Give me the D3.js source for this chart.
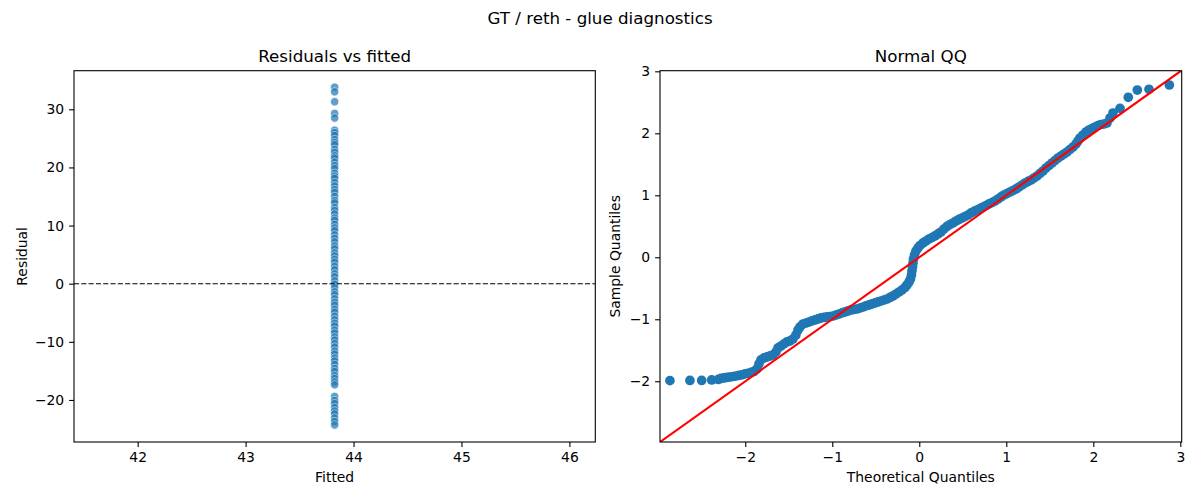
<!DOCTYPE html>
<html>
<head>
<meta charset="utf-8">
<script src="https://cdn.jsdelivr.net/npm/d3@7"></script>
<style>
  html, body { margin: 0; padding: 0; background: #fff; }
  svg { display: block; font-family: "DejaVu Sans", sans-serif; }
</style>
</head>
<body>
<svg id="chart" width="1200" height="500"></svg>
<script>
// ---------------- data ----------------
const figTitle = "GT / reth - glue diagnostics";
const leftTitle = "Residuals vs fitted";
const rightTitle = "Normal QQ";
const leftXLabel = "Fitted";
const leftYLabel = "Residual";
const rightXLabel = "Theoretical Quantiles";
const rightYLabel = "Sample Quantiles";

const fittedValue = 43.825;
const residuals = [33.8, 33.0, 31.3, 29.3, 28.5, 26.4, 26.0, 25.5, 24.8, 24.3, 23.9, 23.1, 22.6, 22.0, 21.6,
  20.9, 20.3, 19.8, 19.0, 18.5, 18.1, 17.4, 16.8, 16.2, 15.7, 15.0, 14.3, 13.9, 13.1, 12.6, 12.0, 11.3,
  10.9, 10.2, 9.6, 9.1, 8.4, 7.8, 7.2, 6.5, 6.0, 5.3, 4.8, 4.2, 3.7, 3.0, 2.4, 1.7, 1.2, 0.5, -0.1, -0.7,
  -1.4, -1.9, -2.6, -3.2, -3.7, -4.4, -4.9, -5.6, -6.2, -6.8, -7.3, -8.0, -8.5, -9.2, -9.7, -10.3, -10.9,
  -11.6, -12.1, -12.8, -13.3, -13.9, -14.6, -15.1, -15.8, -16.3, -16.9, -17.4, -19.4, -20.1, -20.6,
  -21.3, -21.9, -22.4, -23.1, -23.7, -24.3];

const theoretical = [-2.866, -2.636, -2.501, -2.386, -2.310, -2.279, -2.245, -2.210, -2.176, -2.141, -2.107,
  -2.072, -2.038, -2.003, -1.969, -1.934, -1.900, -1.866, -1.843, -1.820, -1.785, -1.751, -1.716, -1.682,
  -1.647, -1.624, -1.590, -1.555, -1.521, -1.487, -1.452, -1.418, -1.394, -1.371, -1.337, -1.302, -1.268,
  -1.233, -1.199, -1.164, -1.130, -1.095, -1.061, -1.026, -0.992, -0.957, -0.923, -0.888, -0.854, -0.819,
  -0.785, -0.751, -0.716, -0.682, -0.647, -0.613, -0.578, -0.544, -0.509, -0.475, -0.440, -0.406, -0.371,
  -0.337, -0.302, -0.268, -0.233, -0.199, -0.164, -0.141, -0.118, -0.101, -0.090, -0.084, -0.078, -0.072,
  -0.067, -0.055, -0.038, -0.015, 0.008, 0.043, 0.077, 0.111, 0.146, 0.180, 0.215, 0.249, 0.284, 0.318,
  0.353, 0.387, 0.422, 0.456, 0.491, 0.525, 0.560, 0.594, 0.629, 0.663, 0.698, 0.732, 0.767, 0.801, 0.836,
  0.870, 0.905, 0.939, 0.974, 1.008, 1.043, 1.077, 1.112, 1.146, 1.181, 1.215, 1.250, 1.284, 1.318, 1.353,
  1.387, 1.422, 1.456, 1.491, 1.525, 1.560, 1.594, 1.629, 1.663, 1.698, 1.732, 1.767, 1.801, 1.824, 1.847,
  1.881, 1.916, 1.950, 1.985, 2.019, 2.054, 2.088, 2.123, 2.157, 2.192, 2.226, 2.307, 2.402, 2.506, 2.640,
  2.874];
const sample = [-1.990, -1.987, -1.987, -1.979, -1.971, -1.955, -1.947, -1.939, -1.931, -1.923, -1.915,
  -1.906, -1.898, -1.882, -1.874, -1.858, -1.842, -1.802, -1.721, -1.656, -1.624, -1.608, -1.592, -1.576,
  -1.527, -1.463, -1.431, -1.398, -1.366, -1.350, -1.318, -1.253, -1.173, -1.124, -1.076, -1.060, -1.044,
  -1.027, -1.011, -0.995, -0.979, -0.971, -0.963, -0.955, -0.947, -0.931, -0.915, -0.898, -0.882, -0.866,
  -0.850, -0.842, -0.834, -0.818, -0.802, -0.785, -0.769, -0.753, -0.737, -0.721, -0.705, -0.689, -0.673,
  -0.648, -0.624, -0.592, -0.560, -0.527, -0.487, -0.447, -0.398, -0.350, -0.285, -0.221, -0.156, -0.092,
  -0.027, 0.037, 0.102, 0.150, 0.190, 0.231, 0.263, 0.295, 0.319, 0.344, 0.376, 0.408, 0.456, 0.497,
  0.529, 0.553, 0.585, 0.610, 0.634, 0.658, 0.682, 0.715, 0.739, 0.763, 0.787, 0.811, 0.835, 0.860, 0.884,
  0.908, 0.940, 0.973, 1.005, 1.029, 1.053, 1.077, 1.102, 1.134, 1.166, 1.198, 1.223, 1.247, 1.279, 1.311,
  1.352, 1.392, 1.440, 1.481, 1.521, 1.561, 1.602, 1.634, 1.666, 1.698, 1.739, 1.779, 1.827, 1.876, 1.924,
  1.973, 2.021, 2.053, 2.077, 2.102, 2.126, 2.142, 2.150, 2.166, 2.247, 2.327, 2.403, 2.581, 2.698, 2.710,
  2.779];

const leftXTicks = [42, 43, 44, 45, 46];
const leftYTicks = [-20, -10, 0, 10, 20, 30];
const rightXTicks = [-2, -1, 0, 1, 2, 3];
const rightYTicks = [-2, -1, 0, 1, 2, 3];
const leftXDomain = [41.41, 46.24];
const leftYDomain = [-27.23, 36.64];
const rightXDomain = [-2.98, 3.016];
const rightYDomain = [-2.98, 3.01];

// ---------------- layout ----------------
const svg = d3.select("#chart");
const TOP = 70.7, BOTTOM = 442;
const L = { x0: 74, x1: 595.3 };
const R = { x0: 660, x1: 1181.7 };
const TICK = 4.9, PAD = 4.9, FS = 13.9, TFS = 16.7;
const C0 = "#1f77b4";

const xL = d3.scaleLinear().domain(leftXDomain).range([L.x0, L.x1]);
const yL = d3.scaleLinear().domain(leftYDomain).range([BOTTOM, TOP]);
const xR = d3.scaleLinear().domain(rightXDomain).range([R.x0, R.x1]);
const yR = d3.scaleLinear().domain(rightYDomain).range([BOTTOM, TOP]);

const fmt = d3.format("d");

function styleAxis(g) {
  g.selectAll("path.domain").remove();
  g.selectAll(".tick line").attr("stroke", "#000").attr("stroke-width", 1.1);
  g.selectAll(".tick text").attr("fill", "#000").attr("font-size", FS)
    .attr("font-family", "DejaVu Sans");
}

function drawAxes(x, y, xt, yt, box, clipId) {
  svg.append("defs").append("clipPath").attr("id", clipId)
    .append("rect").attr("x", box.x0).attr("y", TOP)
    .attr("width", box.x1 - box.x0).attr("height", BOTTOM - TOP);
  svg.append("g").attr("transform", `translate(0,${BOTTOM})`)
    .call(d3.axisBottom(x).tickValues(xt).tickFormat(fmt).tickSize(TICK).tickPadding(PAD))
    .call(styleAxis);
  svg.append("g").attr("transform", `translate(${box.x0},0)`)
    .call(d3.axisLeft(y).tickValues(yt).tickFormat(fmt).tickSize(TICK).tickPadding(PAD))
    .call(styleAxis);
}

function drawFrame(box) {
  svg.append("rect").attr("x", box.x0).attr("y", TOP)
    .attr("width", box.x1 - box.x0).attr("height", BOTTOM - TOP)
    .attr("fill", "none").attr("stroke", "#000").attr("stroke-width", 1.1);
}

// ---------------- left panel ----------------
drawAxes(xL, yL, leftXTicks, leftYTicks, L, "clipL");
const gL = svg.append("g").attr("clip-path", "url(#clipL)");
gL.selectAll("circle").data(residuals).join("circle")
  .attr("cx", () => xL(fittedValue))
  .attr("cy", d => yL(d))
  .attr("r", 4.17)
  .attr("fill", C0)
  .attr("stroke", "#fff")
  .attr("stroke-width", 0.67)
  .attr("opacity", 0.7);
gL.append("line")
  .attr("x1", L.x0).attr("x2", L.x1)
  .attr("y1", yL(0)).attr("y2", yL(0))
  .attr("stroke", "#000").attr("stroke-width", 1.1)
  .attr("stroke-dasharray", "5.1,2.2");
drawFrame(L);

// ---------------- right panel ----------------
drawAxes(xR, yR, rightXTicks, rightYTicks, R, "clipR");
const gR = svg.append("g").attr("clip-path", "url(#clipR)");
const qq = theoretical.map((t, i) => ({ t, s: sample[i] }));
gR.selectAll("circle").data(qq).join("circle")
  .attr("cx", d => xR(d.t))
  .attr("cy", d => yR(d.s))
  .attr("r", 4.85)
  .attr("fill", C0);
const lo = Math.min(rightXDomain[0], rightYDomain[0]);
const hi = Math.max(rightXDomain[1], rightYDomain[1]);
gR.append("line")
  .attr("x1", xR(lo)).attr("y1", yR(lo))
  .attr("x2", xR(hi)).attr("y2", yR(hi))
  .attr("stroke", "red").attr("stroke-width", 2.08);
drawFrame(R);

// ---------------- text ----------------
svg.append("text").attr("x", 600).attr("y", 24).attr("text-anchor", "middle")
  .attr("font-size", TFS).text(figTitle);
svg.append("text").attr("x", (L.x0 + L.x1) / 2).attr("y", 62.4).attr("text-anchor", "middle")
  .attr("font-size", TFS).text(leftTitle);
svg.append("text").attr("x", (R.x0 + R.x1) / 2).attr("y", 62.4).attr("text-anchor", "middle")
  .attr("font-size", TFS).text(rightTitle);
svg.append("text").attr("x", (L.x0 + L.x1) / 2).attr("y", 482).attr("text-anchor", "middle")
  .attr("font-size", FS).text(leftXLabel);
svg.append("text").attr("x", (R.x0 + R.x1) / 2).attr("y", 482).attr("text-anchor", "middle")
  .attr("font-size", FS).text(rightXLabel);
svg.append("text").attr("transform", `translate(26.5,${(TOP + BOTTOM) / 2}) rotate(-90)`)
  .attr("text-anchor", "middle").attr("font-size", FS).text(leftYLabel);
svg.append("text").attr("transform", `translate(620,${(TOP + BOTTOM) / 2}) rotate(-90)`)
  .attr("text-anchor", "middle").attr("font-size", FS).text(rightYLabel);
</script>
</body>
</html>
